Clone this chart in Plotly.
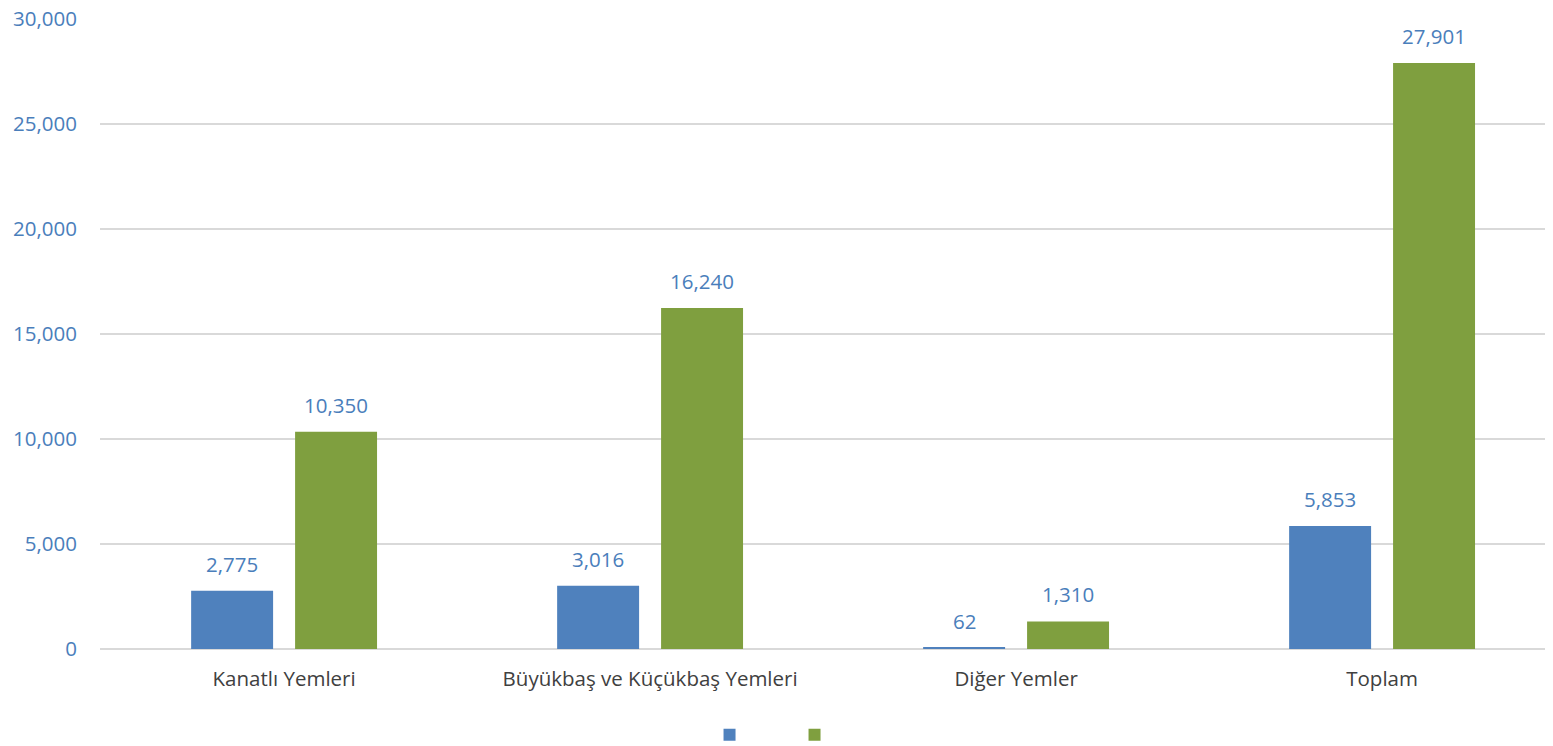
import plotly.graph_objects as go

categories = ["Kanatlı Yemleri", "Büyükbaş ve Küçükbaş Yemleri", "Diğer Yemler", "Toplam"]
series_a = [2775, 3016, 62, 5853]
series_b = [10350, 16240, 1310, 27901]
tick_vals = [0, 5000, 10000, 15000, 20000, 25000, 30000]
tick_text = ["0", "5,000", "10,000", "15,000", "20,000", "25,000", "30,000"]

BLUE = "#4F81BD"
GREEN = "#7F9F3F"
LABEL = "#4A7EBB"
FONT = "Open Sans"
FS = 20.5

fig = go.Figure()
fig.add_trace(go.Bar(x=categories, y=series_a, name=" ", marker_color=BLUE,
                     marker_line_width=0))
fig.add_trace(go.Bar(x=categories, y=series_b, name=" ", marker_color=GREEN,
                     marker_line_width=0))

annotations = []
for cat, va, vb in zip(categories, series_a, series_b):
    for v, xs in ((va, -52), (vb, 52)):
        annotations.append(dict(x=cat, y=v, xref="x", yref="y", text=f"{v:,}",
                                showarrow=False, xshift=xs, yshift=27,
                                font=dict(family=FONT, size=FS, color=LABEL)))

fig.update_layout(
    width=1545, height=738,
    margin=dict(l=92, r=0, t=10, b=97, autoexpand=False),
    paper_bgcolor="white", plot_bgcolor="white",
    barmode="group", bargap=0.432, bargroupgap=0.2115,
    font=dict(family=FONT, size=FS, color="#404040"),
    annotations=annotations,
    showlegend=True,
    legend=dict(orientation="h", x=0.478, xanchor="center", y=-0.111, yanchor="top",
                font=dict(size=14), entrywidth=40, entrywidthmode="pixels",
                itemsizing="constant"),
    xaxis=dict(range=[-0.503, 3.467], showgrid=False, showline=False, ticks="",
               automargin=False,
               tickfont=dict(family=FONT, size=FS, color="#404040"),
               ticklabelstandoff=15),
    yaxis=dict(range=[0, 30047.6], tickvals=tick_vals, ticktext=tick_text,
               automargin=False, ticklabeloverflow="allow",
               showgrid=True, gridcolor="#D9D9D9", gridwidth=1.5,
               zeroline=True, zerolinecolor="#D9D9D9", zerolinewidth=1.5,
               showline=False, ticks="",
               tickfont=dict(family=FONT, size=FS, color=LABEL),
               ticklabelstandoff=22),
)

fig.write_html("out.html")
